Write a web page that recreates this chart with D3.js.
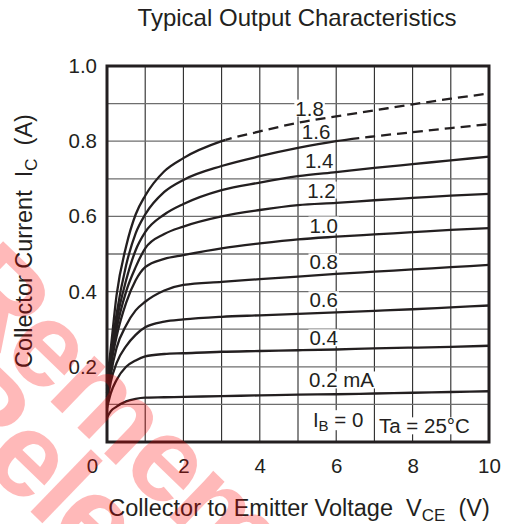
<!DOCTYPE html>
<html><head><meta charset="utf-8">
<script src="https://cdn.jsdelivr.net/npm/d3@7"></script>
<style>
body{margin:0;background:#fff}
svg{display:block}
text{font-family:"Liberation Sans",Arial,Helvetica,sans-serif;fill:#231f20;white-space:pre}
</style>
</head><body>
<svg id="c" width="509" height="524"></svg>
<script>
// ---- data ----
const vce = [0, 0.1, 0.25, 0.5, 0.75, 1, 1.5, 2, 3, 4, 5, 6, 7, 8, 9, 10];
const ib02 = [0.065, 0.082, 0.094, 0.108, 0.115, 0.118, 0.119, 0.120, 0.122, 0.124, 0.126, 0.127, 0.129, 0.131, 0.133, 0.135];
const ib04 = [0.090, 0.130, 0.165, 0.200, 0.217, 0.228, 0.234, 0.236, 0.240, 0.242, 0.244, 0.246, 0.249, 0.251, 0.253, 0.256];
const ib06 = [0.100, 0.160, 0.210, 0.255, 0.285, 0.305, 0.320, 0.326, 0.333, 0.337, 0.341, 0.345, 0.349, 0.353, 0.358, 0.363];
const ib08 = [0.110, 0.180, 0.250, 0.310, 0.350, 0.373, 0.403, 0.418, 0.426, 0.433, 0.440, 0.447, 0.453, 0.459, 0.465, 0.471];
const ib10 = [0.120, 0.200, 0.280, 0.370, 0.430, 0.465, 0.487, 0.497, 0.515, 0.528, 0.539, 0.546, 0.552, 0.558, 0.564, 0.569];
const ib12 = [0.130, 0.210, 0.300, 0.400, 0.465, 0.515, 0.553, 0.573, 0.600, 0.617, 0.630, 0.636, 0.643, 0.649, 0.655, 0.660];
const ib14 = [0.140, 0.220, 0.320, 0.430, 0.510, 0.558, 0.605, 0.633, 0.670, 0.690, 0.707, 0.718, 0.729, 0.739, 0.749, 0.759];
const ib16 = [0.150, 0.230, 0.340, 0.470, 0.555, 0.605, 0.665, 0.697, 0.734, 0.760, 0.782, 0.800, 0.813, 0.824, 0.835, 0.845];
const ib18 = [0.160, 0.250, 0.390, 0.520, 0.605, 0.655, 0.720, 0.755, 0.800, 0.826, 0.849, 0.866, 0.882, 0.898, 0.913, 0.927];
const seriesValues = [ib02, ib04, ib06, ib08, ib10, ib12, ib14, ib16, ib18];
// V_CE beyond which each curve is drawn dashed (null = fully solid)
const dashedFrom = [null, null, null, null, null, null, null, 6.6, 3.1];
const curveLabels = ["0.2 mA", "0.4", "0.6", "0.8", "1.0", "1.2", "1.4", "1.6", "1.8"];
// label anchor points (V_CE, I_C) = left edge / vertical centre of each label
const labelV = [5.29, 5.30, 5.30, 5.30, 5.30, 5.24, 5.18, 5.10, 4.93];
const labelI = [0.165, 0.277, 0.378, 0.479, 0.577, 0.670, 0.750, 0.827, 0.888];
const xTicks = [0, 2, 4, 6, 8, 10];
const yTicks = [0.2, 0.4, 0.6, 0.8, 1.0];
const titleText = "Typical Output Characteristics";

// ---- chart ----
const svg = d3.select("#c");
const L = 107, R = 489, T = 66, B = 442;
const x = d3.scaleLinear().domain([0, 10]).range([L, R]);
const y = d3.scaleLinear().domain([0, 1]).range([B, T]);
const ink = "#231f20";

svg.append("text").attr("x", 297).attr("y", 26).attr("text-anchor", "middle")
  .attr("font-size", 24).text(titleText);

// grid
const g = svg.append("g");
g.append("g").selectAll("line").data(d3.range(1, 10)).join("line")
  .attr("x1", d => x(d)).attr("x2", d => x(d)).attr("y1", T).attr("y2", B)
  .attr("stroke", "#2a2a2a").attr("stroke-width", 1.1);
g.append("g").selectAll("line").data(d3.range(1, 10).map(d => d / 10)).join("line")
  .attr("y1", d => y(d)).attr("y2", d => y(d)).attr("x1", L).attr("x2", R)
  .attr("stroke", "#6e6e6e").attr("stroke-width", 1.3);

// axes tick labels
const xAxis = d3.axisBottom(x).tickValues(xTicks).tickSize(0).tickPadding(16);
const xa = svg.append("g").attr("transform", `translate(0,${B})`).call(xAxis);
xa.select(".domain").remove();
xa.selectAll("text").attr("font-size", 20.5).attr("font-family", null).attr("fill", ink)
  .attr("dx", d => d === 0 ? -15 : 0);
const yAxis = d3.axisLeft(y).tickValues(yTicks).tickSize(0).tickPadding(10).tickFormat(d3.format(".1f"));
const ya = svg.append("g").attr("transform", `translate(${L},0)`).call(yAxis);
ya.select(".domain").remove();
ya.selectAll("text").attr("font-size", 20.5).attr("font-family", null).attr("fill", ink);

// label backgrounds / texts
const labG = svg.append("g");
const cg = svg.append("g");
const labTextG = svg.append("g");

// curves
const line = d3.line().x(d => x(d[0])).y(d => y(d[1])).curve(d3.curveMonotoneX);
const defs = svg.append("defs");
seriesValues.forEach((vals, i) => {
  const pts = vce.map((v, k) => [v, vals[k]]);
  const split = dashedFrom[i];
  if (split === null) {
    cg.append("path").attr("d", line(pts)).attr("fill", "none").attr("stroke", ink).attr("stroke-width", 2.3);
  } else {
    const idS = "cs" + i, idD = "cd" + i;
    defs.append("clipPath").attr("id", idS).append("rect").attr("x", 0).attr("y", 0).attr("width", x(split)).attr("height", 524);
    defs.append("clipPath").attr("id", idD).append("rect").attr("x", x(split)).attr("y", 0).attr("width", 509).attr("height", 524);
    cg.append("path").attr("d", line(pts)).attr("fill", "none").attr("stroke", ink).attr("stroke-width", 2.3).attr("clip-path", `url(#${idS})`);
    cg.append("path").attr("d", line(pts)).attr("fill", "none").attr("stroke", ink).attr("stroke-width", 2.3)
      .attr("stroke-dasharray", "10,6").attr("clip-path", `url(#${idD})`);
  }
});

function addLabel(px, py, build) {
  const t = labTextG.append("text").attr("x", px).attr("y", py).attr("font-size", 20.5).attr("dominant-baseline", "central");
  build(t);
  const bb = t.node().getBBox();
  labG.append("rect").attr("x", bb.x - 1).attr("y", bb.y + 3).attr("width", bb.width + 2).attr("height", bb.height - 6).attr("fill", "#fff");
}
curveLabels.forEach((lab, i) => {
  addLabel(x(labelV[i]), y(labelI[i]), t => t.text(lab));
});
addLabel(x(5.39), y(0.062), t => {
  t.append("tspan").text("I");
  t.append("tspan").attr("font-size", 15).attr("dy", 6).text("B");
  t.append("tspan").attr("dy", -6).text(" = 0");
});
addLabel(x(7.12), y(0.043), t => t.text("Ta = 25°C"));

// frame
svg.append("rect").attr("x", L).attr("y", T).attr("width", R - L).attr("height", B - T)
  .attr("fill", "none").attr("stroke", ink).attr("stroke-width", 3);

// axis titles
const xt = svg.append("text").attr("x", 299).attr("y", 516).attr("text-anchor", "middle").attr("font-size", 23.5);
xt.append("tspan").text("Collector to Emitter Voltage  V");
xt.append("tspan").attr("font-size", 17).attr("dy", 5).text("CE");
xt.append("tspan").attr("dy", -5).text("  (V)");
const yt = svg.append("text").attr("transform", "translate(32,241) rotate(-90)").attr("text-anchor", "middle").attr("font-size", 23.5);
yt.append("tspan").text("Collector Current  I");
yt.append("tspan").attr("font-size", 17).attr("dy", 5).text("C");
yt.append("tspan").attr("dy", -5).text("  (A)");

// watermark (partially visible, translucent red)
const wm = svg.append("g").attr("pointer-events", "none");
wm.append("text").attr("transform", "translate(-60,295) rotate(44)")
  .attr("font-size", 120).attr("font-weight", "bold").attr("letter-spacing", -4)
  .style("fill", "#ff0000").attr("opacity", 0.27).text("Remember");
wm.append("text").attr("transform", "translate(-80,405) rotate(44)")
  .attr("font-size", 120).attr("font-weight", "bold").attr("letter-spacing", -4)
  .style("fill", "#ff0000").attr("opacity", 0.27).text("Release");
</script>
</body></html>
